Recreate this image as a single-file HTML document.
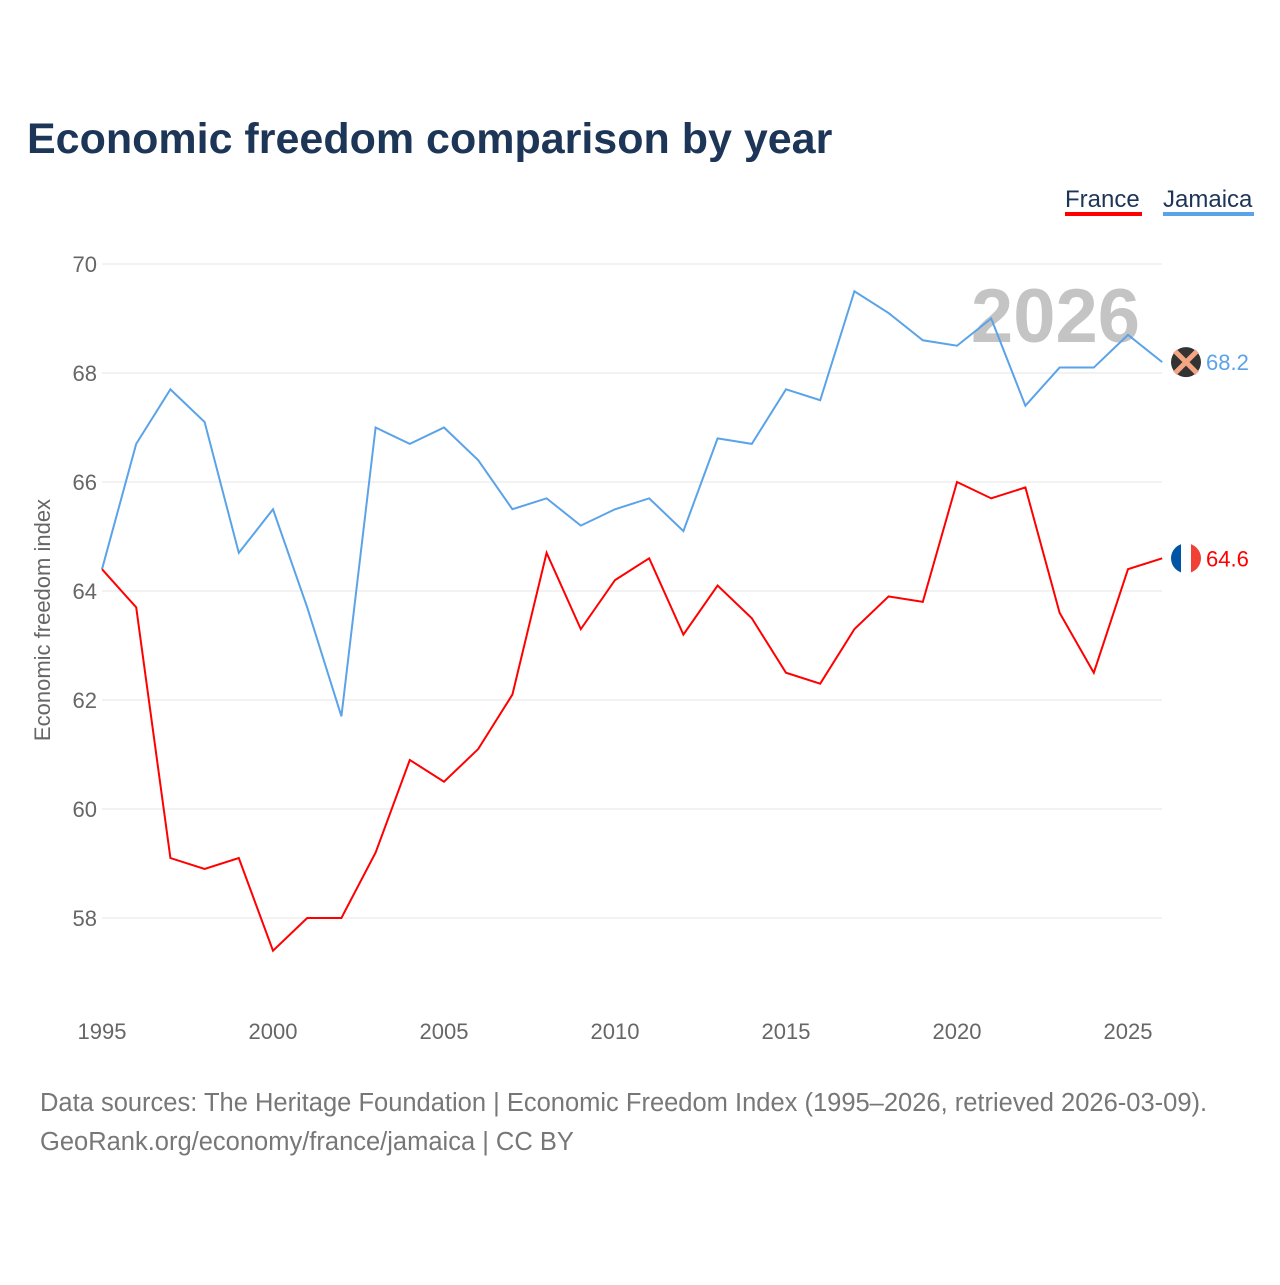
<!DOCTYPE html>
<html><head><meta charset="utf-8"><style>
body{margin:0;background:#fff;font-family:"Liberation Sans",sans-serif}
svg text{font-family:"Liberation Sans",sans-serif}
</style></head><body>
<svg id="chart" width="1280" height="1280" viewBox="0 0 1280 1280">
<text x="27" y="153" font-size="43" font-weight="bold" fill="#1d3557">Economic freedom comparison by year</text>
<g>
<text x="1065" y="207" font-size="24" fill="#1d3557">France</text>
<rect x="1065" y="212" width="77" height="4" fill="#ff0000"/>
<text x="1163" y="207" font-size="24" fill="#1d3557">Jamaica</text>
<rect x="1163" y="212" width="91" height="4" fill="#5ba3e8"/>
</g>
<g id="grid"></g>
<text x="1140" y="342" font-size="76" font-weight="bold" fill="#c4c4c4" text-anchor="end">2026</text>
<g id="series"></g>
<text transform="translate(50,620) rotate(-90)" font-size="22" fill="#666" text-anchor="middle">Economic freedom index</text>
<text x="40" y="1111" font-size="25.5" fill="#777">Data sources: The Heritage Foundation | Economic Freedom Index (1995–2026, retrieved 2026-03-09).</text>
<text x="40" y="1150" font-size="25.5" fill="#777">GeoRank.org/economy/france/jamaica | CC BY</text>
</svg>
<script>
const years=[1995,1996,1997,1998,1999,2000,2001,2002,2003,2004,2005,2006,2007,2008,2009,2010,2011,2012,2013,2014,2015,2016,2017,2018,2019,2020,2021,2022,2023,2024,2025,2026];
const france=[64.4,63.7,59.1,58.9,59.1,57.4,58.0,58.0,59.2,60.9,60.5,61.1,62.1,64.7,63.3,64.2,64.6,63.2,64.1,63.5,62.5,62.3,63.3,63.9,63.8,66.0,65.7,65.9,63.6,62.5,64.4,64.6];
const jamaica=[64.4,66.7,67.7,67.1,64.7,65.5,63.7,61.7,67.0,66.7,67.0,66.4,65.5,65.7,65.2,65.5,65.7,65.1,66.8,66.7,67.7,67.5,69.5,69.1,68.6,68.5,69.0,67.4,68.1,68.1,68.7,68.2];
const yTicks=[58,60,62,64,66,68,70];
const xTicks=[1995,2000,2005,2010,2015,2020,2025];
const NS="http://www.w3.org/2000/svg";
const xs=y=>102+(y-1995)*(1128-102)/30;
const ys=v=>918-(v-58)*(918-264)/12;
const grid=document.getElementById('grid'),ser=document.getElementById('series');
function mk(tag,attrs,parent,txt){const e=document.createElementNS(NS,tag);for(const k in attrs)e.setAttribute(k,attrs[k]);if(txt!==undefined)e.textContent=txt;parent.appendChild(e);return e;}
yTicks.forEach(t=>{
 const l=mk('line',{x1:102,x2:1162,y1:ys(t),y2:ys(t),stroke:'#e4e4e4','stroke-width':1},grid);
 
 
 const tx=mk('text',{x:97,y:ys(t)+8,'font-size':22,fill:'#666','text-anchor':'end'},grid,String(t));
 
 
});
xTicks.forEach(t=>{
 const tx=mk('text',{x:xs(t),y:1039,'font-size':22,fill:'#666','text-anchor':'middle'},grid,String(t));
 
 
});
function line(vals,color,name){
 const p=mk('polyline',{points:vals.map((v,i)=>xs(years[i])+','+ys(v)).join(' '),fill:'none',stroke:color,'stroke-width':2},ser);
 
 
 const last=vals[vals.length-1];
 const tx=mk('text',{x:1206,y:ys(last)+8,'font-size':22,fill:color},ser,last.toFixed(1));
 
 
}
line(jamaica,'#5ba3e8','jamaica-line');
line(france,'#ff0000','france-line');
const jy=ys(jamaica[jamaica.length-1]);
const jg=mk('g',{},ser);


mk('circle',{cx:1186,cy:jy,r:15,fill:'#333'},jg);
mk('path',{d:`M1175 ${jy-11} L1197 ${jy+11} M1197 ${jy-11} L1175 ${jy+11}`,stroke:'#f4a582','stroke-width':5},jg);
const fy=ys(france[france.length-1]);
const fg=mk('g',{},ser);


mk('clipPath',{id:'fc'},fg);
mk('circle',{cx:1186,cy:fy,r:15},fg.lastChild);
const fi=mk('g',{'clip-path':'url(#fc)'},fg);
mk('rect',{x:1171,y:fy-15,width:10,height:30,fill:'#0055a4'},fi);
mk('rect',{x:1181,y:fy-15,width:10,height:30,fill:'#fff'},fi);
mk('rect',{x:1191,y:fy-15,width:10,height:30,fill:'#ef4135'},fi);
</script>
</body></html>
